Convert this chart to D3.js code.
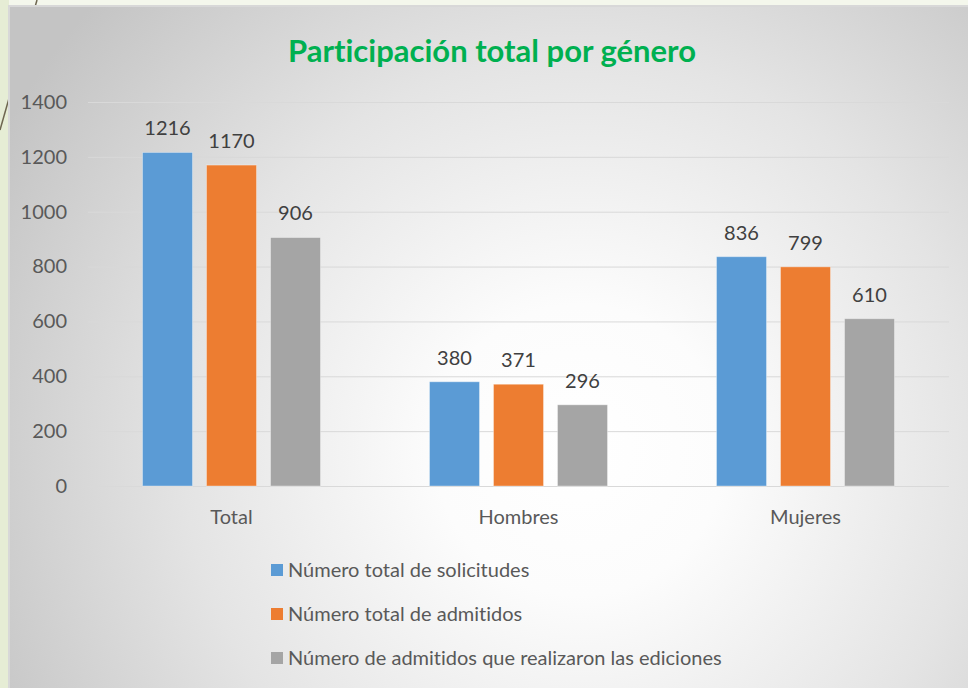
<!DOCTYPE html>
<html>
<head>
<meta charset="utf-8">
<script src="https://cdn.jsdelivr.net/npm/d3@7"></script>
<style>
  body { margin: 0; background: #f4f7ec; overflow: hidden; }
  text { font-family: Lato, "Open Sans", sans-serif; font-variant-ligatures: none; }
</style>
</head>
<body>
<div id="my_dataviz"></div>
<script>
// data
var categories = ["Total", "Hombres", "Mujeres"];
var seriesNames = ["Número total de solicitudes", "Número total de admitidos", "Número de admitidos que realizaron las ediciones"];
var solicitudes = [1216, 380, 836];
var admitidos = [1170, 371, 799];
var ediciones = [906, 296, 610];
var yTicks = [0, 200, 400, 600, 800, 1000, 1200, 1400];
var colors = ["#5b9bd5", "#ed7d31", "#a5a5a5"];

var W = 968, H = 688;
var margin = { top: 102, right: 19, bottom: 202, left: 88 },
    width = W - margin.left - margin.right,
    height = H - margin.top - margin.bottom;

var svg = d3.select("#my_dataviz")
  .append("svg")
    .attr("width", W)
    .attr("height", H);

/*********************
 * BACKGROUND
 *********************/
var defs = svg.append("defs");
var grad = defs.append("radialGradient")
    .attr("id", "bg")
    .attr("gradientUnits", "userSpaceOnUse")
    .attr("cx", 580).attr("cy", 450).attr("r", 660);
grad.append("stop").attr("offset", "0").attr("stop-color", "#ffffff");
grad.append("stop").attr("offset", "0.22").attr("stop-color", "#fcfcfc");
grad.append("stop").attr("offset", "0.6").attr("stop-color", "#e4e4e4");
grad.append("stop").attr("offset", "1").attr("stop-color", "#c4c4c4");

// left green strip + the stray line behind the chart
svg.append("rect").attr("x", 0).attr("y", 0).attr("width", 9).attr("height", H).attr("fill", "#e6edd5");
svg.append("line")
    .attr("x1", 37).attr("y1", 0).attr("x2", 0).attr("y2", 130)
    .style("stroke", "#6e6650").style("stroke-width", 1.5);

svg.append("rect")
    .attr("x", 9).attr("y", 5)
    .attr("width", W - 9).attr("height", H - 5)
    .attr("fill", "url(#bg)");
svg.append("path")
    .attr("d", "M9," + H + "V6H" + W)
    .attr("fill", "none")
    .style("stroke", "#d8d8d8").style("stroke-width", 2);

var g = svg.append("g")
    .attr("transform", "translate(" + margin.left + "," + margin.top + ")");

/*********************
 * SCALES
 *********************/
var y = d3.scaleLinear()
    .domain([0, 1400])
    .range([height, 0]);

var x0 = d3.scaleBand()
    .domain(categories)
    .range([0, width]);

var x1 = d3.scaleBand()
    .domain(d3.range(seriesNames.length))
    .range([54.5, x0.bandwidth() - 54.5])
    .paddingInner(0.219);

/*********************
 * GRIDLINES + Y AXIS
 *********************/
g.append("g")
    .attr("class", "grid")
    .call(d3.axisLeft(y).tickValues(yTicks).tickSize(-width).tickFormat(""))
    .call(function (s) { s.select(".domain").remove(); })
    .selectAll("line")
    .style("stroke", "#d9d9d9");

g.append("g")
    .call(d3.axisLeft(y).tickValues(yTicks).tickSize(0).tickPadding(21).tickFormat(d3.format("d")))
    .call(function (s) { s.select(".domain").remove(); })
    .selectAll("text")
    .style("font-size", "20px")
    .style("fill", "#595959");

/*********************
 * BARS
 *********************/
var table = categories.map(function (c, i) {
  return { cat: c, values: [solicitudes[i], admitidos[i], ediciones[i]] };
});

var groups = g.selectAll(".group")
  .data(table)
  .enter()
  .append("g")
    .attr("class", "group")
    .attr("transform", function (d) { return "translate(" + x0(d.cat) + ",0)"; });

groups.selectAll("rect")
  .data(function (d) { return d.values; })
  .enter()
  .append("rect")
    .attr("x", function (d, i) { return x1(i); })
    .attr("y", function (d) { return y(d); })
    .attr("width", x1.bandwidth())
    .attr("height", function (d) { return height - y(d); })
    .style("fill", function (d, i) { return colors[i]; })
    .style("stroke", "rgba(255,255,255,0.35)")
    .style("stroke-width", 1);

groups.selectAll(".lbl")
  .data(function (d) { return d.values; })
  .enter()
  .append("text")
    .attr("class", "lbl")
    .attr("x", function (d, i) { return x1(i) + x1.bandwidth() / 2; })
    .attr("y", function (d) { return y(d) - 17; })
    .style("text-anchor", "middle")
    .style("font-size", "20px")
    .style("fill", "#404040")
    .text(function (d) { return d; });

// category labels
g.selectAll(".cat")
  .data(categories)
  .enter()
  .append("text")
    .attr("class", "cat")
    .attr("x", function (d) { return x0(d) + x0.bandwidth() / 2; })
    .attr("y", height + 38)
    .style("text-anchor", "middle")
    .style("font-size", "20px")
    .style("fill", "#595959")
    .text(function (d) { return d; });

/*********************
 * TITLE
 *********************/
svg.append("text")
    .attr("x", 492)
    .attr("y", 62)
    .style("text-anchor", "middle")
    .style("font-size", "31px")
    .style("font-weight", "bold")
    .style("fill", "#00b050")
    .text("Participación total por género");

/*********************
 * LEGEND
 *********************/
var legend = svg.selectAll(".legend")
  .data(seriesNames)
  .enter()
  .append("g")
    .attr("class", "legend")
    .attr("transform", function (d, i) { return "translate(271," + (570 + i * 44) + ")"; });

legend.append("rect")
    .attr("x", 0).attr("y", -6)
    .attr("width", 12).attr("height", 12)
    .style("fill", function (d, i) { return colors[i]; });

legend.append("text")
    .attr("x", 17)
    .attr("y", 0)
    .attr("dy", "0.35em")
    .style("font-size", "20px")
    .style("fill", "#595959")
    .text(function (d) { return d; });
</script>
</body>
</html>
